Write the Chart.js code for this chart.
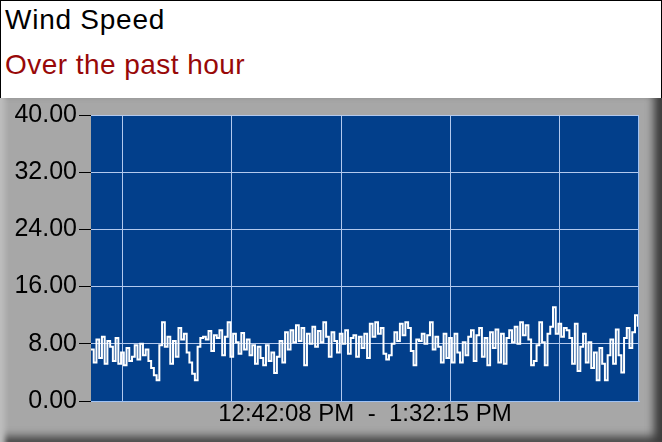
<!DOCTYPE html>
<html lang="en">
<head>
  <meta charset="UTF-8" />
  <title>Wind Speed</title>
  <script src="https://cdn.jsdelivr.net/npm/chart.js"></script>
  <style>
    html, body { margin: 0; padding: 0; background: #fff; }
    #wrap { position: relative; width: 662px; height: 442px; overflow: hidden; font-family: "Liberation Sans", Arial, sans-serif; }
    #head { position: absolute; left: 0; top: 0; width: 662px; height: 98px; box-sizing: border-box; border: 1px solid #000; border-bottom: none; background: #fff; }
    #title { position: absolute; left: 4px; top: 5px; font-size: 28px; line-height: 28px; letter-spacing: 0.75px; color: #000; white-space: nowrap; }
    #sub { position: absolute; left: 4px; top: 50px; font-size: 28px; line-height: 28px; letter-spacing: 0.45px; color: #980808; white-space: nowrap; }
    #panel {
      position: absolute; left: 0; top: 98px; width: 662px; height: 344px;
      background: #a7a7a7;
      box-shadow: inset 9px 0 5px -4px #bdbdbd, inset -13px 0 9px -5px #3c3c3c, inset 0 -11px 8px -5px #4a4a4a;
    }
    #panel canvas { position: absolute; left: 0; top: 0; }
  </style>
</head>
<body>
  <div id="wrap">
    <div id="head">
      <div id="title">Wind Speed</div>
      <div id="sub">Over the past hour</div>
    </div>
    <div id="panel">
      <canvas id="windChart" width="662" height="344"></canvas>
    </div>
  </div>

  <script>
    // one sample every 15 s, 12:42:08 PM -> 1:32:15 PM
    const sampleStep = 15;
    const spanSec = 3007;
    const timeRange = "12:42:08 PM  -  1:32:15 PM";

    const windSpeed = [
      7.2, 5.4, 8.6, 6.0, 9.0, 5.2, 8.4, 7.6, 5.6, 8.8,
      5.2, 6.8, 5.0, 7.4, 5.6, 6.2, 7.8, 5.8, 8.0, 6.4,
      7.2, 5.6, 4.6, 3.6, 2.9, 7.8, 11.0, 7.6, 9.0, 5.2,
      8.4, 6.2, 10.2, 8.6, 9.4, 6.8, 5.4, 3.8, 2.9, 7.6,
      8.8, 9.0, 8.6, 9.8, 7.0, 9.2, 8.8, 9.9, 6.4, 9.0,
      11.0, 6.2, 9.4, 8.2, 6.6, 9.5, 7.2, 8.6, 6.4, 7.8,
      5.2, 7.6, 6.0, 5.0, 7.8, 5.6, 6.8, 3.9, 6.2, 8.4,
      5.4, 9.6, 7.2, 9.9, 8.2, 10.6, 8.4, 10.2, 5.0, 9.4,
      8.0, 10.4, 7.6, 9.8, 8.2, 11.0, 9.0, 6.2, 9.6, 8.4,
      6.8, 9.4, 8.0, 9.9, 6.6, 8.8, 9.2, 6.2, 9.0, 7.4,
      9.4, 6.0, 10.8, 9.0, 11.0, 9.4, 10.2, 6.6, 5.8, 6.4,
      8.0, 9.6, 8.4, 10.8, 9.2, 11.0, 10.2, 7.0, 5.0, 8.6,
      8.4, 9.4, 8.0, 9.2, 11.0, 7.2, 9.0, 7.6, 5.4, 9.4,
      6.0, 8.8, 5.4, 9.4, 6.8, 5.4, 8.2, 6.4, 9.0, 9.9,
      5.6, 9.2, 10.2, 6.2, 8.8, 5.0, 9.6, 7.4, 10.0, 5.4,
      9.4, 5.2, 8.8, 9.9, 8.2, 10.4, 8.0, 11.0, 9.2, 10.6,
      8.6, 5.0, 5.6, 7.8, 11.0, 8.2, 5.0, 9.4, 10.4, 13.1,
      9.4, 10.8, 9.0, 10.2, 9.9, 8.8, 5.2, 10.8, 4.2, 7.6,
      9.4, 5.4, 8.2, 4.6, 6.8, 2.9, 7.4, 5.2, 2.9, 6.4,
      8.6, 5.2, 10.0, 6.4, 4.0, 8.8, 10.2, 7.4, 9.6, 12.0,
      10.4
    ];

    // vertical grid at 12:45, 12:55, 1:05, 1:15, 1:25 (seconds from start)
    const gridTimes = [172, 772, 1372, 1972, 2572];
    const yTickValues = [0, 8, 16, 24, 32, 40];
    const yTickLabels = ["0.00", "8.00", "16.00", "24.00", "32.00", "40.00"];

    const plotFrame = {
      id: "plotFrame",
      beforeDraw(chart) {
        const { ctx, chartArea: a } = chart;
        ctx.save();
        ctx.fillStyle = "#023f8b";
        ctx.fillRect(a.left, a.top, a.right - a.left, a.bottom - a.top);
        ctx.restore();
      },
      afterDraw(chart) {
        const { ctx, chartArea: a } = chart;
        ctx.save();
        ctx.lineWidth = 1;
        ctx.strokeStyle = "#9fc2f4";
        ctx.beginPath();
        ctx.moveTo(a.right - 0.5, a.top);
        ctx.lineTo(a.right - 0.5, a.bottom);
        ctx.stroke();
        ctx.restore();
      }
    };

    new Chart(document.getElementById("windChart"), {
      type: "line",
      data: {
        datasets: [{
          data: windSpeed.map((v, i) => ({ x: i * sampleStep, y: v })),
          borderColor: "#ffffff",
          borderWidth: 2,
          stepped: true,
          pointRadius: 0,
          fill: false
        }]
      },
      options: {
        responsive: false,
        animation: false,
        devicePixelRatio: 1,
        layout: { padding: { top: 16, right: 23, left: 0, bottom: 0 } },
        plugins: { legend: { display: false }, tooltip: { enabled: false } },
        scales: {
          x: {
            type: "linear",
            min: 0,
            max: spanSec,
            afterFit: (axis) => { axis.height = 41; },
            afterBuildTicks: (axis) => { axis.ticks = gridTimes.map(v => ({ value: v })); },
            ticks: { display: false },
            grid: { color: "#b3c9ee", lineWidth: 1, drawTicks: false },
            border: { color: "#9fc2f4", width: 1 },
            title: {
              display: true,
              text: timeRange,
              color: "#000",
              font: { family: "Liberation Sans", size: 24 },
              padding: { top: 0, bottom: 13 }
            }
          },
          y: {
            min: 0,
            max: 40,
            afterFit: (axis) => { axis.width = 91; },
            afterBuildTicks: (axis) => { axis.ticks = yTickValues.map(v => ({ value: v })); },
            ticks: {
              color: "#000",
              padding: 2,
              font: { family: "Liberation Sans", size: 25 },
              callback: (v) => yTickLabels[yTickValues.indexOf(v)]
            },
            grid: { color: "#b3c9ee", tickColor: "#000", tickLength: 12, lineWidth: 1 },
            border: { display: false }
          }
        }
      },
      plugins: [plotFrame]
    });
  </script>
</body>
</html>
